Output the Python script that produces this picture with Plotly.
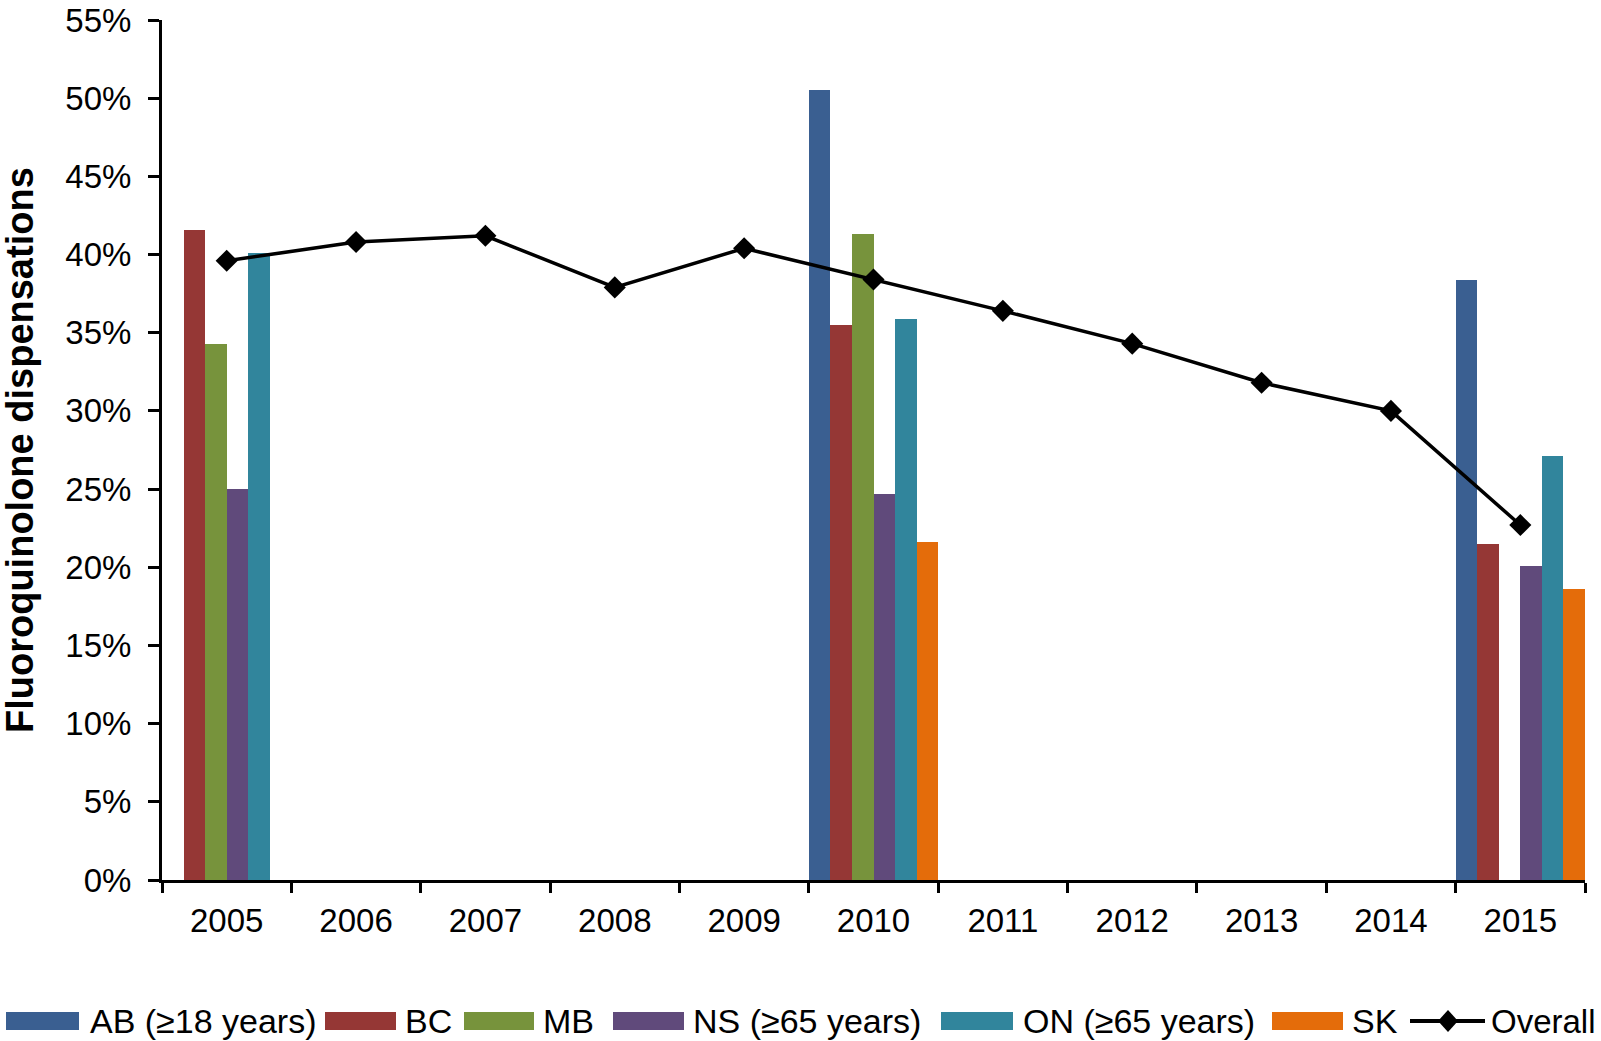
import plotly.graph_objects as go

years = ["2005", "2006", "2007", "2008", "2009", "2010", "2011", "2012", "2013", "2014", "2015"]
ab_18 = [None, None, None, None, None, 50.5, None, None, None, None, 38.4]
bc = [41.6, None, None, None, None, 35.5, None, None, None, None, 21.5]
mb = [34.3, None, None, None, None, 41.3, None, None, None, None, None]
ns_65 = [25.0, None, None, None, None, 24.7, None, None, None, None, 20.1]
on_65 = [40.1, None, None, None, None, 35.9, None, None, None, None, 27.1]
sk = [None, None, None, None, None, 21.6, None, None, None, None, 18.6]
overall = [39.6, 40.8, 41.2, 37.9, 40.4, 38.4, 36.4, 34.3, 31.8, 30.0, 22.7]
y_ticks = [0, 5, 10, 15, 20, 25, 30, 35, 40, 45, 50, 55]
y_tick_text = [f"{v}%" for v in y_ticks]

series = [
    ("AB (≥18 years)", ab_18, "#3A5F91"),
    ("BC", bc, "#953735"),
    ("MB", mb, "#77933C"),
    ("NS (≥65 years)", ns_65, "#604A7B"),
    ("ON (≥65 years)", on_65, "#31859C"),
    ("SK", sk, "#E46C0A"),
]

FONT = "Arial, Liberation Sans, sans-serif"
W_PX, H_PX = 1601, 1041
L, R, T, B = 162, 16, 20, 161
PW = W_PX - L - R
PH = H_PX - T - B


def px_x(px):
    return (px - L) / PW


def px_y(py):
    return (H_PX - B - py) / PH


fig = go.Figure()
for name, vals, col in series:
    fig.add_trace(go.Bar(x=years, y=vals, name=name, marker=dict(color=col, line=dict(width=0)),
                         showlegend=False))

fig.add_trace(go.Scatter(x=years, y=overall, name="Overall", mode="lines+markers",
                         line=dict(color="black", width=3.5),
                         marker=dict(symbol="diamond", size=17, color="black"),
                         showlegend=False))

shapes = []
annotations = []
# custom legend
legend_items = [
    (6, 79, 88, series[0][0], series[0][2]),
    (325, 396, 403, series[1][0], series[1][2]),
    (464, 534, 541, series[2][0], series[2][2]),
    (613, 684, 691, series[3][0], series[3][2]),
    (941, 1013, 1021, series[4][0], series[4][2]),
    (1272, 1343, 1350, series[5][0], series[5][2]),
]
ly0, ly1, lyc = 1012, 1030, 1021
for x0, x1, tx, name, col in legend_items:
    shapes.append(dict(type="rect", xref="paper", yref="paper",
                       x0=px_x(x0), x1=px_x(x1), y0=px_y(ly1), y1=px_y(ly0),
                       fillcolor=col, line=dict(width=0)))
    annotations.append(dict(xref="paper", yref="paper", x=px_x(tx), y=px_y(lyc),
                            xanchor="left", yanchor="middle", text=name, showarrow=False,
                            font=dict(family=FONT, size=34, color="black")))
# overall legend entry
shapes.append(dict(type="line", xref="paper", yref="paper",
                   x0=px_x(1410), x1=px_x(1485), y0=px_y(lyc), y1=px_y(lyc),
                   line=dict(color="black", width=4)))
dx, dy = 10, 11
cx = 1448
shapes.append(dict(type="path", xref="paper", yref="paper",
                   path=(f"M {px_x(cx - dx)} {px_y(lyc)} L {px_x(cx)} {px_y(lyc - dy)} "
                         f"L {px_x(cx + dx)} {px_y(lyc)} L {px_x(cx)} {px_y(lyc + dy)} Z"),
                   fillcolor="black", line=dict(width=0)))
annotations.append(dict(xref="paper", yref="paper", x=px_x(1598), y=px_y(lyc),
                        xanchor="right", yanchor="middle", text="Overall", showarrow=False,
                        font=dict(family=FONT, size=33, color="black")))
# y axis title
annotations.append(dict(xref="paper", yref="paper", x=px_x(20), y=0.5,
                        xanchor="center", yanchor="middle", textangle=-90,
                        text="<b>Fluoroquinolone dispensations</b>", showarrow=False,
                        font=dict(family=FONT, size=38, color="black")))

fig.update_layout(
    width=W_PX, height=H_PX,
    margin=dict(l=L, r=R, t=T, b=B, autoexpand=False),
    paper_bgcolor="white", plot_bgcolor="white",
    barmode="group", bargap=0, bargroupgap=0,
    font=dict(family=FONT, color="black"),
    shapes=shapes, annotations=annotations,
    showlegend=False,
    xaxis=dict(type="category", range=[-0.5, 10.5], showline=True, linecolor="black", linewidth=3,
               ticks="outside", tickson="boundaries", ticklen=10, tickwidth=3, tickcolor="black",
               tickfont=dict(family=FONT, size=33, color="black"), showgrid=False, zeroline=False,
               ticklabelstandoff=9),
    yaxis=dict(range=[0, 55], tickmode="array", tickvals=y_ticks, ticktext=y_tick_text,
               showline=True, linecolor="black", linewidth=3,
               ticks="outside", ticklen=11, tickwidth=3, tickcolor="black",
               tickfont=dict(family=FONT, size=33, color="black"), showgrid=False, zeroline=False,
               ticklabelstandoff=10, ticklabeloverflow="allow"),
)

fig.write_html("out.html", config={"displayModeBar": False},
               post_script="document.body.style.margin='0';")
